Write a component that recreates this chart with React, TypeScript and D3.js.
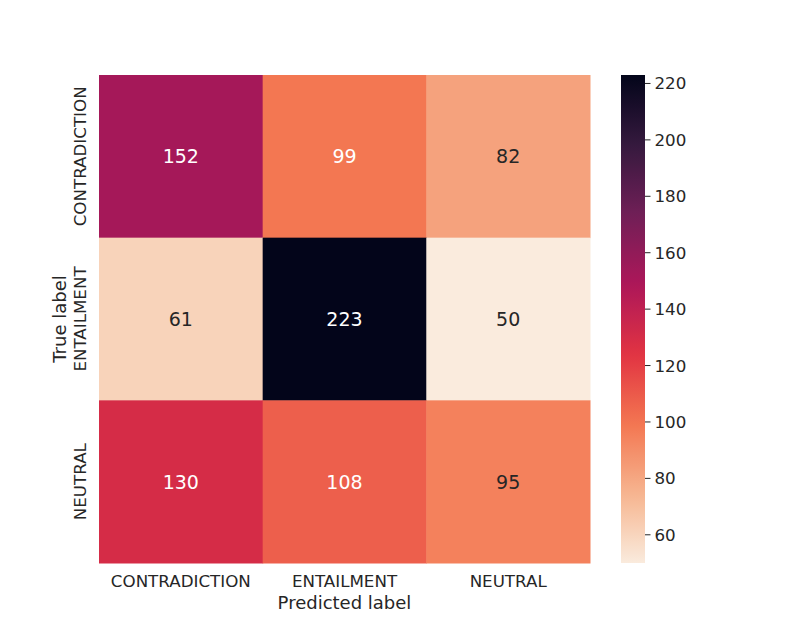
import { useMemo } from 'react';
import * as d3 from 'd3';

const labels = ['CONTRADICTION', 'ENTAILMENT', 'NEUTRAL'];
// rows = true label, columns = predicted label
const matrix = [
  [152, 99, 82],
  [61, 223, 50],
  [130, 108, 95],
];
const colorbarTicks = [60, 80, 100, 120, 140, 160, 180, 200, 220];

// seaborn "rocket" sampled stops (dark -> light)
const rocketStops = ['#03051a', '#35193e', '#701f57', '#ad1759', '#e13342', '#f37651', '#f6b48f', '#faebdd'];

const W = 793;
const H = 634;
const margin = { left: 99, top: 75 };
const plotW = 491;
const plotH = 488;
const cbX = 621;
const cbW = 24;
const FONT = '"DejaVu Sans", sans-serif';

const rocket = d3
  .scaleLinear<string>()
  .domain(rocketStops.map((_, i) => i / (rocketStops.length - 1)))
  .range(rocketStops)
  .interpolate(d3.interpolateRgb);

const vmin = d3.min(matrix.flat()) as number;
const vmax = d3.max(matrix.flat()) as number;
// reversed colormap: low = light, high = dark
const posOf = (v: number) => 1 - (v - vmin) / (vmax - vmin);
const colorOf = (v: number) => rocket(posOf(v));
// values in the light part of the map get dark annotation text
const darkText = (v: number) => posOf(v) > 0.73;

const App = () => {
  const x = useMemo(() => d3.scaleBand().domain(labels).range([margin.left, margin.left + plotW]), []);
  const y = useMemo(() => d3.scaleBand().domain(labels).range([margin.top, margin.top + plotH]), []);
  const cbScale = useMemo(() => d3.scaleLinear().domain([vmin, vmax]).range([margin.top + plotH, margin.top]), []);

  const gradStops = d3.range(0, 1.0001, 0.02);

  return (
    <svg width={W} height={H} style={{ position: 'absolute', left: 0, top: 0, background: '#fff' }} fontFamily={FONT}>
      <defs>
        <linearGradient id="cbGrad" x1="0" y1="1" x2="0" y2="0">
          {gradStops.map((t) => (
            <stop key={t} offset={t} stopColor={colorOf(vmin + t * (vmax - vmin))} />
          ))}
        </linearGradient>
      </defs>
      <rect width={W} height={H} fill="#fff" />

      {/* cells */}
      {matrix.map((row, i) =>
        row.map((v, j) => (
          <rect
            key={`c-${i}-${j}`}
            x={x(labels[j])}
            y={y(labels[i])}
            width={x.bandwidth() + 0.5}
            height={y.bandwidth() + 0.5}
            fill={colorOf(v)}
          />
        ))
      )}
      {/* annotations */}
      {matrix.map((row, i) =>
        row.map((v, j) => (
          <text
            key={`t-${i}-${j}`}
            x={(x(labels[j]) as number) + x.bandwidth() / 2}
            y={(y(labels[i]) as number) + y.bandwidth() / 2}
            dy="0.36em"
            textAnchor="middle"
            fontSize={19}
            style={{ fill: darkText(v) ? '#262626' : '#ffffff' }}
          >
            {v}
          </text>
        ))
      )}

      {/* x tick labels */}
      {labels.map((l) => (
        <text
          key={`x-${l}`}
          x={(x(l) as number) + x.bandwidth() / 2}
          y={587}
          textAnchor="middle"
          fontSize={16.7}
          fill="#262626"
        >
          {l}
        </text>
      ))}
      <text x={margin.left + plotW / 2} y={609} textAnchor="middle" fontSize={18} fill="#262626">
        Predicted label
      </text>

      {/* y tick labels */}
      {labels.map((l) => (
        <text
          key={`y-${l}`}
          transform={`translate(86,${(y(l) as number) + y.bandwidth() / 2}) rotate(-90)`}
          textAnchor="middle"
          fontSize={16.7}
          fill="#262626"
        >
          {l}
        </text>
      ))}
      <text
        transform={`translate(66,${margin.top + plotH / 2}) rotate(-90)`}
        textAnchor="middle"
        fontSize={18}
        fill="#262626"
      >
        True label
      </text>

      {/* colorbar */}
      <rect x={cbX} y={margin.top} width={cbW} height={plotH} fill="url(#cbGrad)" />
      {colorbarTicks.map((t) => (
        <g key={`cb-${t}`} transform={`translate(${cbX + cbW},${cbScale(t)})`}>
          <line x1={0} x2={5.5} stroke="#262626" strokeWidth={1} />
          <text x={9.5} dy="0.36em" fontSize={16.7} fill="#262626">
            {t}
          </text>
        </g>
      ))}
    </svg>
  );
};

export default App;
